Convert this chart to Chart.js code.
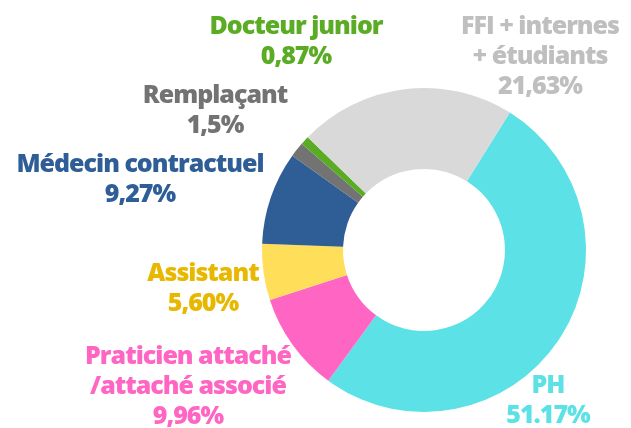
<!DOCTYPE html>
<html>
<head>
<meta charset="utf-8">
<script src="https://cdn.jsdelivr.net/npm/chart.js@4"></script>
<style>
  html, body { margin: 0; padding: 0; background: #fff; }
  #wrap { width: 631px; height: 428px; position: relative; }
</style>
</head>
<body>
<div id="wrap"><canvas id="chart"></canvas></div>
<script>
// categories and values (percent)
const categories = ['PH', 'Praticien attaché /attaché associé', 'Assistant', 'Médecin contractuel', 'Remplaçant', 'Docteur junior', 'FFI + internes + étudiants'];
const values = [51.17, 9.96, 5.60, 9.27, 1.5, 0.87, 21.63];
const valueLabels = ['51.17%', '9,96%', '5,60%', '9,27%', '1,5%', '0,87%', '21,63%'];
const sliceColors = ['#5ce1e6', '#ff66c4', '#ffde59', '#2f5e97', '#737373', '#5aac25', '#d9d9d9'];
const textColors = ['#5ce1e6', '#ff66c4', '#e8b800', '#2f5e97', '#737373', '#5aac25', '#bfbfbf'];
// label lines as printed in the picture
const labelLines = [
  ['PH'],
  ['Praticien attaché', '/attaché associé'],
  ['Assistant'],
  ['Médecin contractuel'],
  ['Remplaçant'],
  ['Docteur junior'],
  ['FFI + internes', '+ étudiants']
];

// where each text block sits (center x, first line middle y)
const labelAnchors = [
  [548, 386], [188, 357], [203, 274], [140, 165], [215, 96], [296, 27], [540, 27]
];

const outsideLabels = {
  id: 'outsideLabels',
  afterDraw(chart) {
    const ctx = chart.ctx;
    ctx.save();
    ctx.font = '800 25px "Open Sans"';
    ctx.textAlign = 'center';
    ctx.textBaseline = 'middle';
    if ('letterSpacing' in ctx) ctx.letterSpacing = '-1px';
    labelLines.forEach((lines, i) => {
      const [x, y] = labelAnchors[i];
      ctx.fillStyle = textColors[i];
      const all = lines.concat([valueLabels[i]]);
      all.forEach((t, j) => ctx.fillText(t, x, y + j * 30));
    });
    ctx.restore();
  }
};

new Chart(document.getElementById('chart'), {
  type: 'doughnut',
  data: {
    labels: categories,
    datasets: [{
      data: values,
      backgroundColor: sliceColors,
      borderWidth: 0
    }]
  },
  options: {
    responsive: true,
    maintainAspectRatio: false,
    animation: false,
    rotation: 32,
    cutout: '50%',
    layout: { padding: { left: 262, right: 45, top: 88, bottom: 16 } },
    plugins: {
      legend: { display: false },
      tooltip: { enabled: false }
    }
  },
  plugins: [outsideLabels]
});
</script>
</body>
</html>
